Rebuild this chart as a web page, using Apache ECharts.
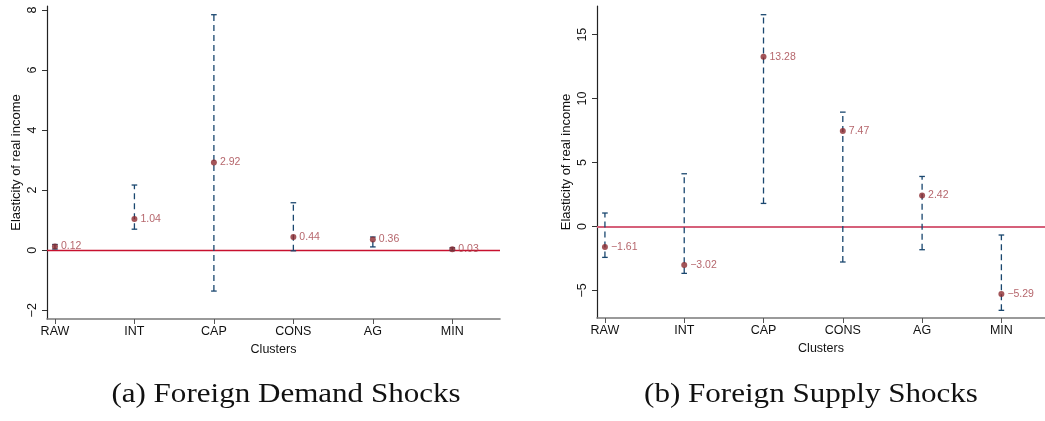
<!DOCTYPE html>
<html>
<head>
<meta charset="utf-8">
<script src="https://cdn.jsdelivr.net/npm/echarts@6/dist/echarts.min.js"></script>
<style>
  html, body { margin: 0; padding: 0; background: #fff; }
  #chart { width: 1045px; height: 421px; }
</style>
</head>
<body>
<div id="chart"></div>
<script>
// Cluster categories along the x axis
const categories = ['RAW', 'INT', 'CAP', 'CONS', 'AG', 'MIN'];

// (a) Foreign demand shocks: point estimates and confidence bounds
const demandEst = [0.12, 1.04, 2.92, 0.44, 0.36, 0.03];
const demandLo  = [0.04, 0.70, -1.36, -0.02, 0.11, -0.01];
const demandHi  = [0.19, 2.17, 7.84, 1.58, 0.44, 0.08];

// (b) Foreign supply shocks: point estimates and confidence bounds
const supplyEst = [-1.61, -3.02, 13.28, 7.47, 2.42, -5.29];
const supplyLo  = [-2.42, -3.67, 1.80, -2.78, -1.82, -6.56];
const supplyHi  = [1.05, 4.12, 16.56, 8.94, 3.91, -0.67];

// Tick values on the y axes
const demandTicks = [-2, 0, 2, 4, 6, 8];
const supplyTicks = [-5, 0, 5, 10, 15];

const captions = ['(a) Foreign Demand Shocks', '(b) Foreign Supply Shocks'];

const positions = categories.map((c, i) => i + 1);
const minus = s => String(s).replace('-', '\u2212');

const barColor = '#1a476f';
const pointColor = '#8c2a30';
const labelColor = '#a23f46';
const sans = 'Liberation Sans, Arial, sans-serif';

function xAxisFor(gridIndex, max) {
  return {
    type: 'value', gridIndex, min: 0.9, max,
    splitLine: { show: false },
    axisLine: { show: true, onZero: false, lineStyle: { color: '#7a7a7a', width: 1.6 } },
    axisTick: { show: true, customValues: positions, length: 5, lineStyle: { color: '#555' } },
    axisLabel: {
      customValues: positions, color: '#111', fontSize: 12.5, margin: 6,
      fontFamily: sans,
      formatter: v => categories[Math.round(v) - 1] || ''
    },
    name: 'Clusters', nameLocation: 'middle', nameGap: 21,
    nameTextStyle: { color: '#111', fontSize: 12.5, fontFamily: sans }
  };
}

function yAxisFor(gridIndex, min, max, ticks) {
  return {
    type: 'value', gridIndex, min, max,
    splitLine: { show: false },
    axisLine: { show: true, onZero: false, lineStyle: { color: '#222', width: 1.2 } },
    axisTick: { show: true, customValues: ticks, length: 5, lineStyle: { color: '#333' } },
    axisLabel: {
      customValues: ticks, rotate: 90, color: '#111', fontSize: 12.5, margin: 8,
      fontFamily: sans,
      formatter: v => minus(v)
    },
    name: 'Elasticity of real income', nameLocation: 'middle', nameGap: 24,
    nameTextStyle: { color: '#111', fontSize: 13, fontFamily: sans }
  };
}

function errorBars(idx, lo, hi) {
  return {
    type: 'custom', xAxisIndex: idx, yAxisIndex: idx, z: 3,
    data: positions.map((p, i) => [p, lo[i], hi[i]]),
    renderItem: (params, api) => {
      const a = api.coord([api.value(0), api.value(1)]);
      const b = api.coord([api.value(0), api.value(2)]);
      const half = 2.8;
      const style = { stroke: barColor, lineWidth: 1.3 };
      return {
        type: 'group',
        children: [
          { type: 'line', shape: { x1: a[0], y1: a[1], x2: b[0], y2: b[1] },
            style: Object.assign({ lineDash: [6, 4] }, style) },
          { type: 'line', shape: { x1: a[0] - half, y1: a[1], x2: a[0] + half, y2: a[1] }, style },
          { type: 'line', shape: { x1: b[0] - half, y1: b[1], x2: b[0] + half, y2: b[1] }, style }
        ]
      };
    }
  };
}

function points(idx, est, lineColor, lineWidth) {
  return {
    type: 'scatter', xAxisIndex: idx, yAxisIndex: idx, z: 4,
    symbol: 'circle', symbolSize: 6,
    itemStyle: { color: pointColor },
    data: positions.map((p, i) => [p, est[i]]),
    label: {
      show: true, position: 'right', distance: 3, color: labelColor,
      fontSize: 10.5, fontFamily: sans,
      formatter: p => minus(p.value[1].toFixed(2))
    },
    markLine: {
      silent: true, symbol: 'none', z: 2,
      label: { show: false },
      lineStyle: { color: lineColor, width: lineWidth, type: 'solid' },
      data: [{ yAxis: 0 }]
    }
  };
}

const chart = echarts.init(document.getElementById('chart'), null, { renderer: 'canvas' });
chart.setOption({
  backgroundColor: '#fff',
  animation: false,
  grid: [
    { left: 47, right: 545, top: 6, bottom: 102 },
    { left: 597, right: 0, top: 6, bottom: 103 }
  ],
  xAxis: [xAxisFor(0, 6.6), xAxisFor(1, 6.55)],
  yAxis: [
    yAxisFor(0, -2.29, 8.13, demandTicks),
    yAxisFor(1, -7.16, 17.24, supplyTicks)
  ],
  series: [
    errorBars(0, demandLo, demandHi),
    points(0, demandEst, '#c8102e', 1.3),
    errorBars(1, supplyLo, supplyHi),
    points(1, supplyEst, '#d6607a', 2)
  ],
  graphic: [
    { type: 'text', x: 286, y: 395, scaleX: 1.15,
      style: { text: captions[0], fill: '#111', textAlign: 'center', textVerticalAlign: 'middle',
               font: '27px "Liberation Serif", "DejaVu Serif", serif' } },
    { type: 'text', x: 811, y: 395, scaleX: 1.15,
      style: { text: captions[1], fill: '#111', textAlign: 'center', textVerticalAlign: 'middle',
               font: '27px "Liberation Serif", "DejaVu Serif", serif' } }
  ]
});
</script>
</body>
</html>
